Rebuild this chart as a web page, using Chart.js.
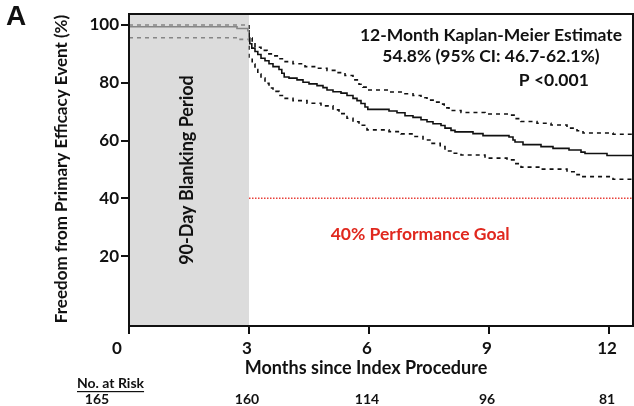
<!DOCTYPE html>
<html><head><meta charset="utf-8">
<script src="https://cdn.jsdelivr.net/npm/chart.js@4.4.0/dist/chart.umd.min.js"></script>
<style>html,body{margin:0;padding:0;background:#fff;}canvas{display:block;}</style>
</head><body>
<canvas id="c" width="634" height="406"></canvas>
<script>
// Kaplan-Meier estimate (month, % event-free)
const kmMain = [[0,99.4],[2.7,98.8],[2.97,98.0],[3.0,95.5],[3.02,93.5],[3.07,92.0],[3.15,90.8],[3.22,89.8],[3.3,88.5],[3.4,87.6],[3.5,86.6],[3.6,85.6],[3.75,84.6],[3.82,83.3],[3.88,82.0],[4.0,81.6],[4.2,81.0],[4.35,80.2],[4.5,79.6],[4.7,79.0],[4.85,78.3],[4.95,77.5],[5.1,76.9],[5.3,76.4],[5.45,75.6],[5.6,74.6],[5.7,73.8],[5.8,72.8],[5.9,71.6],[5.97,70.8],[6.5,70.2],[6.7,69.6],[6.9,68.6],[7.1,68.0],[7.3,67.2],[7.45,66.5],[7.6,65.8],[7.8,65.2],[7.9,64.3],[8.05,63.5],[8.15,63.0],[8.6,62.4],[8.85,61.7],[9.5,61.2],[9.6,60.2],[9.65,59.5],[9.85,58.6],[10.3,57.9],[10.6,57.3],[11.0,56.7],[11.3,56.0],[11.4,55.5],[11.95,54.8],[12.6,54.8]];
const ciUpper = [[0,100.0],[2.9,99.7],[3.0,95.5],[3.08,93.5],[3.15,92.3],[3.3,91.2],[3.45,90.0],[3.6,89.3],[3.75,88.3],[3.86,87.3],[4.1,86.6],[4.4,85.6],[4.7,85.0],[4.95,84.3],[5.2,83.5],[5.4,82.5],[5.6,81.0],[5.75,79.5],[5.85,78.5],[5.95,77.5],[6.5,76.8],[6.9,76.2],[7.1,75.6],[7.3,74.8],[7.45,74.0],[7.65,73.3],[7.8,72.6],[7.88,71.3],[8.0,70.4],[8.3,69.7],[8.9,69.2],[9.5,68.8],[9.65,67.6],[9.8,66.6],[10.2,66.0],[10.55,65.4],[10.95,64.3],[11.2,63.4],[11.35,62.6],[12.1,62.2],[12.6,62.1]];
const ciLower = [[0,95.6],[2.75,95.0],[3.0,88.5],[3.08,86.5],[3.15,84.6],[3.22,83.0],[3.3,81.6],[3.4,79.8],[3.5,78.2],[3.6,77.0],[3.75,75.6],[3.86,74.6],[4.1,73.8],[4.45,72.9],[4.8,72.0],[5.1,70.6],[5.25,69.3],[5.45,67.7],[5.6,66.5],[5.75,65.3],[5.95,63.7],[6.5,63.1],[6.8,62.3],[7.1,61.4],[7.35,60.2],[7.55,59.0],[7.78,57.9],[7.9,56.4],[8.1,55.6],[8.3,55.0],[8.9,53.9],[9.45,53.3],[9.65,52.0],[9.8,50.8],[10.3,50.1],[10.95,49.2],[11.2,48.2],[11.3,47.5],[12.1,46.6],[12.6,46.4]];
const goalLine = [[3,40],[12.6,40]];
const xTicks = [0,3,6,9,12];
const yTicks = [20,40,60,80,100];
const riskMonths = [0,3,6,9,12];
const riskCounts = [165,160,114,96,81];
const blankingStart = 0, blankingEnd = 3;
const annotLines = ['12-Month Kaplan-Meier Estimate','54.8% (95% CI: 46.7-62.1%)','P <0.001'];
const goalLabel = '40% Performance Goal';
const blankingLabel = '90-Day Blanking Period';
const yTitle = 'Freedom from Primary Efficacy Event (%)';
const xTitle = 'Months since Index Procedure';
const riskTitle = 'No. at Risk';
const panelLabel = 'A';

const FONT = 'Lato, "Open Sans", sans-serif';
const toXY = a => a.map(p => ({x:p[0], y:p[1]}));

const decor = {
  id:'decor',
  afterDatasetsDraw(chart){
    const {ctx, chartArea:ca, scales:{x,y}} = chart;
    ctx.save();
    const x0 = x.getPixelForValue(blankingStart), x1 = x.getPixelForValue(blankingEnd);
    ctx.fillStyle = 'rgba(200,200,200,0.64)';
    ctx.fillRect(x0, ca.top, x1-x0, ca.bottom-ca.top);
    ctx.fillStyle = '#111';
    ctx.font = 'bold 18px ' + FONT;
    ctx.textAlign = 'center'; ctx.textBaseline = 'middle';
    ctx.save();
    ctx.translate((x0+x1)/2 - 2, (ca.top+ca.bottom)/2);
    ctx.rotate(-Math.PI/2);
    ctx.fillText(blankingLabel, 0, 0);
    ctx.restore();
    // annotation
    ctx.font = 'bold 17.5px ' + FONT;
    const ax = x.getPixelForValue(9.05);
    ctx.fillText(annotLines[0], ax, y.getPixelForValue(96.5));
    ctx.fillText(annotLines[1], ax, y.getPixelForValue(89));
    ctx.fillText(annotLines[2], x.getPixelForValue(10.62), y.getPixelForValue(81));
    ctx.fillStyle = '#e0281e';
    ctx.fillText(goalLabel, x.getPixelForValue(7.28), y.getPixelForValue(27.5));
    ctx.restore();
  },
  afterDraw(chart){
    const {ctx, chartArea:ca, scales:{x,y}} = chart;
    ctx.save();
    ctx.strokeStyle = '#111'; ctx.lineWidth = 2;
    ctx.strokeRect(ca.left, ca.top, ca.right-ca.left, ca.bottom-ca.top);
    ctx.fillStyle = '#111';
    ctx.textAlign = 'center'; ctx.textBaseline = 'middle';
    ctx.font = 'bold 17px ' + FONT;
    xTicks.forEach(v => {
      const off = v === 0 ? -12 : -2;
      ctx.fillText(String(v), x.getPixelForValue(v)+off, 349);
    });
    ctx.font = 'bold 18px ' + FONT;
    ctx.fillText(xTitle, x.getPixelForValue(6)-3, 368);
    ctx.save();
    ctx.translate(62, (ca.top+ca.bottom)/2 - 1);
    ctx.rotate(-Math.PI/2);
    ctx.font = 'bold 17px ' + FONT;
    ctx.fillText(yTitle, 0, 0);
    ctx.restore();
    ctx.font = 'bold 14px ' + FONT;
    ctx.textAlign = 'left';
    ctx.fillText(riskTitle, 77, 383);
    const w = ctx.measureText(riskTitle).width;
    ctx.fillRect(77, 391, w, 1.2);
    ctx.textAlign = 'center';
    riskMonths.forEach((m,i) => {
      const off = m === 0 ? -32 : -2;
      ctx.fillText(String(riskCounts[i]), x.getPixelForValue(m)+off, 399);
    });
    ctx.font = 'bold 28px "Liberation Sans", Arial, sans-serif';
    ctx.textAlign = 'left';
    ctx.fillText(panelLabel, 6, 17);
    ctx.restore();
  }
};

new Chart(document.getElementById('c'), {
  type:'line',
  data:{datasets:[
    {data:toXY(kmMain), borderColor:'#111', borderWidth:1.6, stepped:true, pointRadius:0, fill:false},
    {data:toXY(ciUpper), borderColor:'#111', borderWidth:1.6, borderDash:[4,4], stepped:true, pointRadius:0, fill:false},
    {data:toXY(ciLower), borderColor:'#111', borderWidth:1.6, borderDash:[4,4], stepped:true, pointRadius:0, fill:false},
    {data:toXY(goalLine), borderColor:'#e8403a', borderWidth:1.5, borderDash:[1.5,1.5], pointRadius:0, fill:false}
  ]},
  options:{
    responsive:false, animation:false, devicePixelRatio:1,
    layout:{padding:{left:0, top:14, right:1, bottom:0}},
    plugins:{legend:{display:false}, tooltip:{enabled:false}},
    scales:{
      x:{type:'linear', min:0, max:12.6,
        afterBuildTicks: s => { s.ticks = xTicks.map(v => ({value:v})); },
        afterFit: s => { s.height = 80; },
        grid:{drawOnChartArea:false, drawTicks:true, tickLength:8, color:'#111', lineWidth:2},
        border:{color:'#111', width:2},
        ticks:{display:false}
      },
      y:{type:'linear', min:-4.2, max:103.8,
        afterBuildTicks: s => { s.ticks = yTicks.map(v => ({value:v})); },
        afterFit: s => { s.width = 129; },
        grid:{drawOnChartArea:false, drawTicks:true, tickLength:8, color:'#111', lineWidth:2},
        border:{color:'#111', width:2},
        ticks:{color:'#111', padding:2, font:{family:FONT, weight:'bold', size:17}}
      }
    }
  },
  plugins:[decor]
});
</script>
</body></html>
